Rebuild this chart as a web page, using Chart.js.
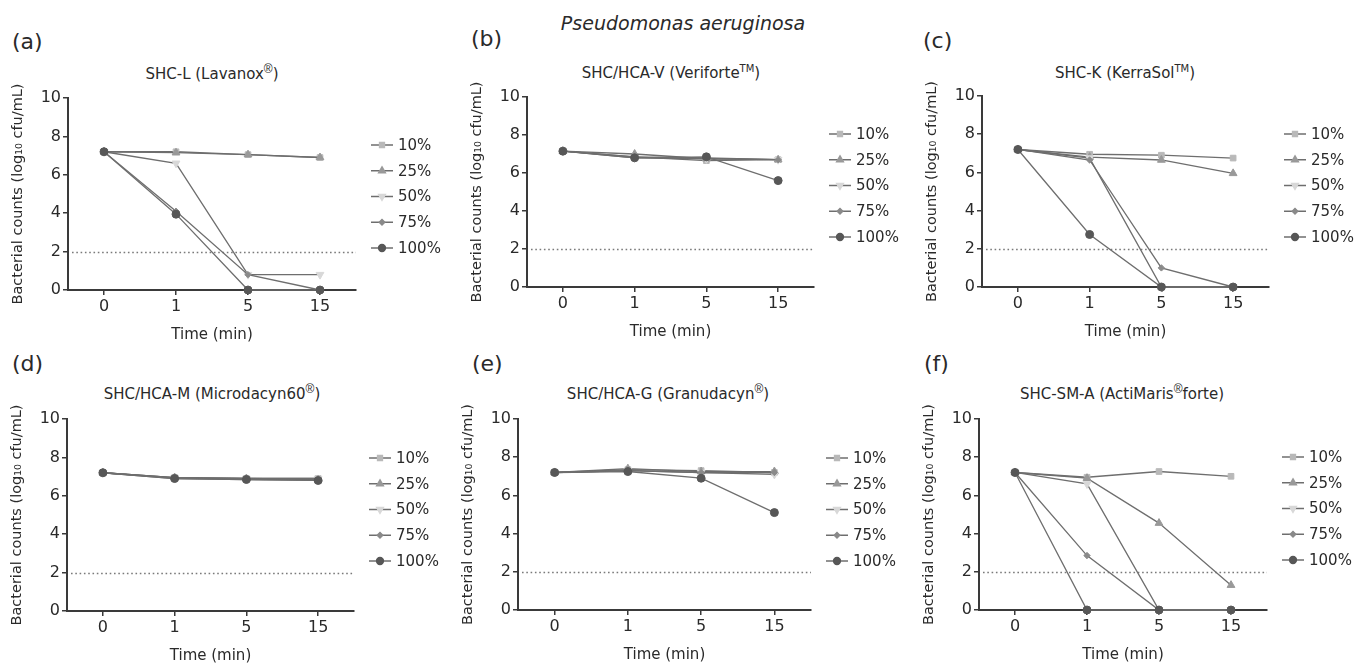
<!DOCTYPE html>
<html lang="en">
<head>
<meta charset="UTF-8">
<script src="https://cdn.jsdelivr.net/npm/chart.js@4.4.0/dist/chart.umd.min.js"></script>
<title>Pseudomonas aeruginosa</title>
<style>
  body { margin: 0; width: 1357px; height: 664px; position: relative; overflow: hidden; background: #fff;
         font-family: "DejaVu Sans", sans-serif; color: #2a2a2a; }
  canvas { position: absolute; }
  .lbl { position: absolute; font-size: 22px; transform: translateY(-50%); }
  .ttl { position: absolute; font-size: 15px; transform: translate(-50%, -50%); white-space: nowrap; }
  .ttl sup { font-size: 10px; color: #2a2a2a; }
  .ttl sup.r { font-family: "Liberation Sans"; font-size: 12px; }
  .main { position: absolute; font-size: 19px; font-style: italic; left: 683px; top: 23px;
          transform: translate(-50%, -50%); white-space: nowrap; }
</style>
</head>
<body>
<div class="main">Pseudomonas aeruginosa</div>
<script>
// x categories, series names, y ticks
const times = ['0', '1', '5', '15'];
const concentrations = ['10%', '25%', '50%', '75%', '100%'];
const yTicks = [0, 2, 4, 6, 8, 10];
const detectionLimit = 2;

// log10 cfu/mL, one row per concentration (10%, 25%, 50%, 75%, 100%)
const lavanox = [
  [7.2, 7.2, 7.05, 6.9],
  [7.2, 7.15, 7.05, 6.9],
  [7.2, 6.6, 0.8, 0.8],
  [7.2, 4.1, 0.8, 0],
  [7.2, 3.95, 0, 0]
];
const veriforte = [
  [7.15, 6.85, 6.65, 6.7],
  [7.15, 7.0, 6.75, 6.7],
  [7.15, 6.8, 6.75, 6.7],
  [7.15, 6.85, 6.8, 6.7],
  [7.15, 6.8, 6.85, 5.6]
];
const kerrasol = [
  [7.2, 6.95, 6.9, 6.75],
  [7.2, 6.8, 6.65, 5.95],
  [7.2, 6.75, 0, 0],
  [7.2, 6.65, 1.0, 0],
  [7.2, 2.75, 0, 0]
];
const microdacyn = [
  [7.2, 6.95, 6.9, 6.9],
  [7.2, 6.95, 6.9, 6.85],
  [7.2, 6.95, 6.9, 6.9],
  [7.2, 6.9, 6.85, 6.8],
  [7.2, 6.9, 6.85, 6.8]
];
const granudacyn = [
  [7.2, 7.35, 7.3, 7.2],
  [7.2, 7.4, 7.25, 7.25],
  [7.2, 7.3, 7.2, 7.1],
  [7.2, 7.3, 7.2, 7.2],
  [7.2, 7.25, 6.9, 5.1]
];
const actimaris = [
  [7.2, 6.95, 7.25, 7.0],
  [7.2, 6.9, 4.55, 1.3],
  [7.2, 6.6, 0, 0],
  [7.2, 2.85, 0, 0],
  [7.2, 0, 0, 0]
];

const lineColor = '#6e6e6e';
const axisColor = '#3a3a3a';
const textColor = '#2a2a2a';
const seriesStyle = [
  { pointStyle: 'rect', color: '#b9b9b9', radius: 4, rotation: 0 },
  { pointStyle: 'triangle', color: '#999999', radius: 4.5, rotation: 0 },
  { pointStyle: 'triangle', color: '#d8d8d8', radius: 4.5, rotation: 180 },
  { pointStyle: 'rectRot', color: '#8a8a8a', radius: 3.2, rotation: 0 },
  { pointStyle: 'circle', color: '#575757', radius: 4, rotation: 0 }
];

const REG = '<sup class="r">\u00AE</sup>';
const TM = '<sup>TM</sup>';
// plot area in page pixels (L, T, R, B), label/title placement
const panels = [
  { tag: '(a)', title: 'SHC-L (Lavanox' + REG + ')', data: lavanox, L: 68, T: 98, R: 356, B: 290, legTop: 47, lx: 12, ly: 41, tx: 212, ty: 72 },
  { tag: '(b)', title: 'SHC/HCA-V (Veriforte' + TM + ')', data: veriforte, L: 527, T: 97, R: 814, B: 287, legTop: 37, lx: 471, ly: 38, tx: 671, ty: 72 },
  { tag: '(c)', title: 'SHC-K (KerraSol' + TM + ')', data: kerrasol, L: 982, T: 96, R: 1269, B: 287, legTop: 38, lx: 923, ly: 40, tx: 1125, ty: 72 },
  { tag: '(d)', title: 'SHC/HCA-M (Microdacyn60' + REG + ')', data: microdacyn, L: 67, T: 419, R: 354, B: 611, legTop: 39, lx: 12, ly: 363, tx: 212, ty: 392 },
  { tag: '(e)', title: 'SHC/HCA-G (Granudacyn' + REG + ')', data: granudacyn, L: 518, T: 419, R: 811, B: 610, legTop: 39, lx: 472, ly: 363, tx: 668, ty: 392 },
  { tag: '(f)', title: 'SHC-SM-A (ActiMaris' + REG + 'forte)', data: actimaris, L: 979, T: 419, R: 1267, B: 610, legTop: 38, lx: 924, ly: 363, tx: 1122, ty: 392 }
];

const limitLine = {
  id: 'limitLine',
  beforeDatasetsDraw(chart) {
    const { ctx, chartArea: a, scales: { y } } = chart;
    const yy = Math.round(y.getPixelForValue(detectionLimit)) + 0.5;
    ctx.save();
    ctx.strokeStyle = '#7a7a7a';
    ctx.lineWidth = 1.6;
    ctx.setLineDash([1.6, 2.7]);
    ctx.beginPath();
    ctx.moveTo(a.left + 4, yy);
    ctx.lineTo(a.right, yy);
    ctx.stroke();
    ctx.restore();
  }
};

const sideLegend = {
  id: 'sideLegend',
  afterDraw(chart, args, opts) {
    const { ctx, chartArea: a } = chart;
    ctx.save();
    chart.data.datasets.forEach((ds, i) => {
      const y = a.top + opts.top + i * 25.75;
      const cx = a.right + 26;
      ctx.strokeStyle = lineColor;
      ctx.lineWidth = 1.5;
      ctx.beginPath();
      ctx.moveTo(cx - 11, y);
      ctx.lineTo(cx + 11, y);
      ctx.stroke();
      const s = seriesStyle[i];
      ctx.fillStyle = s.color;
      ctx.strokeStyle = s.color;
      Chart.helpers.drawPoint(ctx, { pointStyle: s.pointStyle, radius: s.radius * 0.85, rotation: s.rotation, borderWidth: 1 }, cx, y);
      ctx.fillStyle = textColor;
      ctx.font = '15px "DejaVu Sans"';
      ctx.textBaseline = 'middle';
      ctx.textAlign = 'left';
      ctx.fillText(ds.label, a.right + 42, y + 1);
    });
    ctx.restore();
  }
};

const tickFont = { family: 'DejaVu Sans', size: 16 };
const titleFont = { family: 'DejaVu Sans', size: 15 };
const padTop = 20, yW = 60, xH = 54, legendW = 100;

panels.forEach(p => {
  const tag = document.createElement('div');
  tag.className = 'lbl';
  tag.style.left = p.lx + 'px';
  tag.style.top = p.ly + 'px';
  tag.textContent = p.tag;
  document.body.appendChild(tag);

  const ttl = document.createElement('div');
  ttl.className = 'ttl';
  ttl.style.left = p.tx + 'px';
  ttl.style.top = p.ty + 'px';
  ttl.innerHTML = p.title;
  document.body.appendChild(ttl);

  const w = (p.R - p.L) + yW + legendW;
  const h = (p.B - p.T) + padTop + xH;
  const canvas = document.createElement('canvas');
  canvas.width = w;
  canvas.height = h;
  canvas.style.left = (p.L - yW) + 'px';
  canvas.style.top = (p.T - padTop) + 'px';
  canvas.style.width = w + 'px';
  canvas.style.height = h + 'px';
  document.body.appendChild(canvas);

  new Chart(canvas, {
    type: 'line',
    data: {
      labels: times,
      datasets: p.data.map((vals, i) => ({
        label: concentrations[i],
        data: vals,
        order: concentrations.length - 1 - i,
        clip: false,
        borderColor: lineColor,
        borderWidth: 1.3,
        pointStyle: seriesStyle[i].pointStyle,
        pointRadius: seriesStyle[i].radius,
        pointRotation: seriesStyle[i].rotation,
        pointBackgroundColor: seriesStyle[i].color,
        pointBorderColor: seriesStyle[i].color,
        pointBorderWidth: 1
      }))
    },
    options: {
      responsive: false,
      animation: false,
      layout: { padding: { top: padTop, right: legendW, left: 0, bottom: 0 } },
      plugins: {
        legend: { display: false },
        tooltip: { enabled: false },
        sideLegend: { top: p.legTop }
      },
      scales: {
        x: {
          offset: true,
          grid: { display: true, drawOnChartArea: false, tickLength: 5, color: axisColor, lineWidth: 1.5 },
          border: { display: true, color: axisColor, width: 2 },
          ticks: { font: tickFont, color: textColor, padding: 2, maxRotation: 0 },
          title: { display: true, text: 'Time (min)', font: titleFont, color: textColor, padding: 0 },
          afterFit: s => { s.height = xH; }
        },
        y: {
          min: 0,
          max: 10,
          afterBuildTicks: s => { s.ticks = yTicks.map(v => ({ value: v })); },
          grid: { display: true, drawOnChartArea: false, tickLength: 5, color: axisColor, lineWidth: 1.5 },
          border: { display: true, color: axisColor, width: 2 },
          ticks: { font: tickFont, color: textColor, padding: 2 },
          title: { display: true, text: 'Bacterial counts (log₁₀ cfu/mL)', font: { family: 'DejaVu Sans', size: 14.5 }, color: textColor, padding: { top: 2, bottom: 0 } },
          afterFit: s => { s.width = yW; }
        }
      }
    },
    plugins: [limitLine, sideLegend]
  });
});
</script>
</body>
</html>
